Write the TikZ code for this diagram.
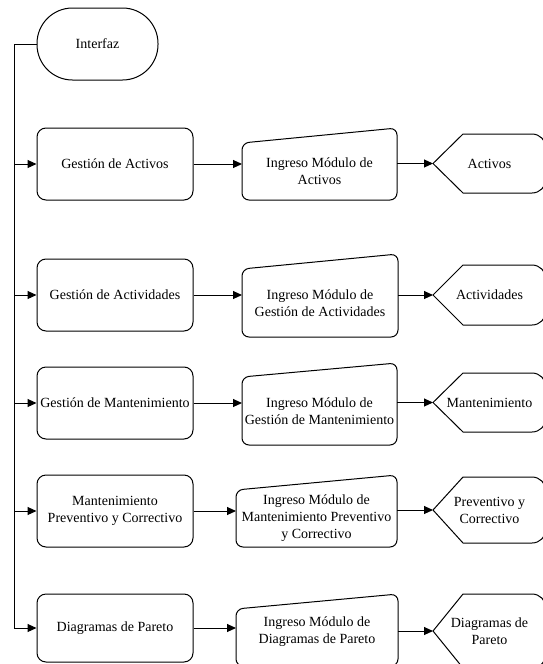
\documentclass[tikz,border=0pt]{standalone}
\usepackage{fontspec}
\setmainfont{Liberation Serif}
\usetikzlibrary{arrows.meta,calc}
\begin{document}
\begin{tikzpicture}[x=1pt,y=-1pt,
  line width=1pt,
  font=\fontsize{14}{17}\selectfont,
  arr/.style={-{Triangle[length=9pt,width=8pt]}},
  procbox/.style={draw, rounded corners=9pt, minimum width=156pt, minimum height=72pt, inner sep=0pt, align=center},
  term/.style={draw, rounded corners=35.5pt, minimum width=121pt, minimum height=72pt, inner sep=0pt},
  slot/.style={inner sep=0pt, outer sep=0pt},
  txt/.style={inner sep=0pt, align=center}
]
\useasboundingbox (0,0) rectangle (542,664);

% manual input: sloped top edge, drop of #2 on the left side
\newcommand{\manualin}[2]{%
  \draw[rounded corners=7pt] (#1.south west) -- ($(#1.north west)+(0,#2)$)
    -- (#1.north east) -- (#1.south east) -- cycle;}
% display: pointed left end, rounded right end
\newcommand{\displayout}[1]{%
  \draw (#1.west) -- ($(#1.north west)+(30,0)$) [rounded corners=14pt]
    -- (#1.north east) -- (#1.south east) [sharp corners]
    -- ($(#1.south west)+(30,0)$) -- cycle;}

\coordinate (tk) at (14,0);

% start
\node[term] (int) at (97.5,44) {Interfaz};

% processes
\node[procbox] (p1) at (115,164) {Gestión de Activos};
\node[procbox] (p2) at (115,295) {Gestión de Actividades};
\node[procbox] (p3) at (115,403) {Gestión de Mantenimiento};
\node[procbox] (p4) at (115,511) {Mantenimiento\\Preventivo y Correctivo};
\node[procbox, minimum height=68pt] (p5) at (115,628) {Diagramas de Pareto};

% manual inputs
\node[slot, minimum width=155pt, minimum height=72pt] (m1) at (319.5,164) {};
\node[slot, minimum width=156pt, minimum height=83pt] (m2) at (320,295.5) {};
\node[slot, minimum width=155pt, minimum height=82pt] (m3) at (319.5,404) {};
\node[slot, minimum width=161pt, minimum height=72pt] (m4) at (316.5,511) {};
\node[slot, minimum width=162pt, minimum height=72pt] (m5) at (317,630) {};
\manualin{m1}{15}
\manualin{m2}{15}
\manualin{m3}{14}
\manualin{m4}{15}
\manualin{m5}{15}
\node[txt] (m1t) at ($(m1.center)+(0,7.5)$) {Ingreso Módulo de\\Activos};
\node[txt] (m2t) at ($(m2.center)+(0,7.5)$) {Ingreso Módulo de\\Gestión de Actividades};
\node[txt] (m3t) at ($(m3.center)+(0,7)$) {Ingreso Módulo de\\Gestión de Mantenimiento};
\node[txt] (m4t) at ($(m4.center)+(0,7.5)$) {Ingreso Módulo de\\Mantenimiento Preventivo\\y Correctivo};
\node[txt] (m5t) at ($(m5.center)+(0,2)$) {Ingreso Módulo de\\Diagramas de Pareto};

% displays
\node[slot, minimum width=113pt, minimum height=59pt] (o1) at (489.5,163.5) {};
\node[slot, minimum width=113pt, minimum height=60pt] (o2) at (489.5,295) {};
\node[slot, minimum width=113pt, minimum height=59pt] (o3) at (489.5,402.5) {};
\node[slot, minimum width=113pt, minimum height=66pt] (o4) at (489.5,510) {};
\node[slot, minimum width=113pt, minimum height=74pt] (o5) at (489.5,631) {};
\displayout{o1}
\displayout{o2}
\displayout{o3}
\displayout{o4}
\displayout{o5}
\node[txt] (o1t) at (o1.center) {Activos};
\node[txt] (o2t) at (o2.center) {Actividades};
\node[txt] (o3t) at (o3.center) {Mantenimiento};
\node[txt] (o4t) at (o4.center) {Preventivo y\\Correctivo};
\node[txt] (o5t) at (o5.center) {Diagramas de\\Pareto};

% trunk from the start node to every process
\draw[arr] (int.west) -- (int.west -| tk) -- (p5.west -| tk) -- (p5.west);
\foreach \p in {p1,p2,p3,p4}
  \draw[arr] (\p.west -| tk) -- (\p.west);

% process -> manual input -> display
\foreach \i in {1,...,5} {
  \draw[arr] (p\i.east) -- (p\i.east -| m\i.west);
  \draw[arr] (m\i.east |- o\i.west) -- (o\i.west);
}
\end{tikzpicture}
\end{document}
